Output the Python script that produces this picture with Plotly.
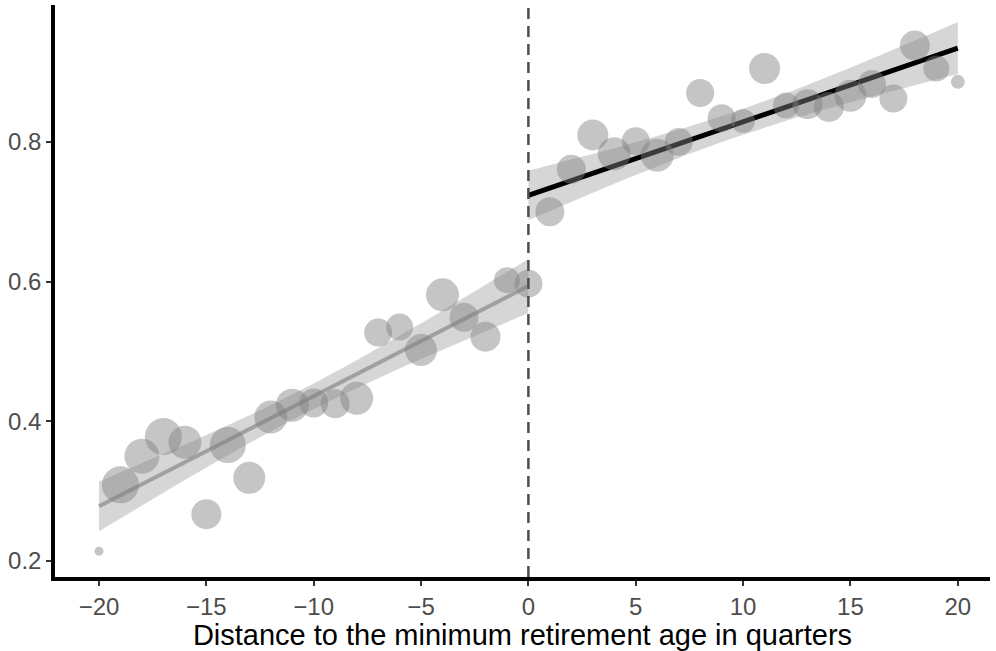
import numpy as np
import plotly.graph_objects as go

# ---- data ----
quarters = list(range(-20, 21))
share = [0.214, 0.309, 0.350, 0.378, 0.370, 0.267, 0.366, 0.319, 0.406, 0.423,
         0.426, 0.425, 0.433, 0.527, 0.535, 0.502, 0.581, 0.549, 0.521, 0.602,
         0.597,
         0.700, 0.761, 0.810, 0.783, 0.801, 0.781, 0.800, 0.870, 0.834, 0.830,
         0.905, 0.852, 0.854, 0.850, 0.866, 0.883, 0.862, 0.938, 0.905, 0.886]
weight = [9, 37, 35, 37, 33, 30, 36, 32, 33, 33,
          29, 29, 33, 28, 27, 32, 33, 29, 30, 26,
          28,
          29, 29, 31, 33, 28, 33, 28, 28, 28, 24,
          31, 26, 30, 30, 32, 28, 28, 30, 26, 14]
x_ticks = [-20, -15, -10, -5, 0, 5, 10, 15, 20]
x_tick_labels = ["\u221220", "\u221215", "\u221210", "\u22125", "0", "5", "10", "15", "20"]
y_ticks = [0.2, 0.4, 0.6, 0.8]
y_tick_labels = ["0.2", "0.4", "0.6", "0.8"]

x = np.array(quarters, dtype=float)
y = np.array(share)
w_all = np.array(weight, dtype=float)


def wls_fit(xs, ys, w, x_from, x_to):
    X = np.column_stack([np.ones_like(xs), xs])
    W = np.diag(w)
    XtWX_inv = np.linalg.inv(X.T @ W @ X)
    beta = XtWX_inv @ X.T @ W @ ys
    res = ys - X @ beta
    s2 = np.sum(w * res ** 2) / (len(xs) - 2)
    xg = np.linspace(x_from, x_to, 80)
    G = np.column_stack([np.ones_like(xg), xg])
    fit = G @ beta
    se = np.sqrt(s2 * np.einsum("ij,jk,ik->i", G, XtWX_inv, G))
    return xg, fit, fit - 1.96 * se, fit + 1.96 * se


fig = go.Figure()

groups = [(x < 0, -20, 0, "rgb(160,160,160)", 4),
          (x >= 0, 0, 20, "black", 5)]
for mask, a, b, col, lw in groups:
    xg, fit, lo, hi = wls_fit(x[mask], y[mask], w_all[mask], a, b)
    fig.add_trace(go.Scatter(x=np.concatenate([xg, xg[::-1]]),
                             y=np.concatenate([hi, lo[::-1]]),
                             fill="toself", fillcolor="rgba(153,153,153,0.4)",
                             line=dict(width=0), mode="lines", hoverinfo="skip",
                             showlegend=False))
    fig.add_trace(go.Scatter(x=xg, y=fit, mode="lines",
                             line=dict(color=col, width=lw), showlegend=False))

fig.add_trace(go.Scatter(x=quarters, y=share, mode="markers",
                         marker=dict(size=weight, sizemode="diameter",
                                     color="rgba(128,128,128,0.65)",
                                     line=dict(width=0)),
                         showlegend=False))

fig.add_shape(type="line", x0=0, x1=0, xref="x", y0=0, y1=1, yref="paper",
              line=dict(color="#4d4d4d", width=2.5, dash="11px,7px"))

fig.update_layout(
    width=996, height=651,
    paper_bgcolor="white", plot_bgcolor="white",
    margin=dict(l=55, r=6, t=5, b=74),
    font=dict(family="Liberation Sans, Arial, sans-serif"),
    xaxis=dict(range=[-22.05, 21.5], tickvals=x_ticks, ticktext=x_tick_labels,
               showline=True, linecolor="black", linewidth=3.5,
               ticks="outside", ticklen=5, tickcolor="#333333", tickwidth=2,
               showgrid=False, zeroline=False, automargin=False,
               tickfont=dict(size=24, color="#4d4d4d"),
               title=dict(text="Distance to the minimum retirement age in quarters",
                          font=dict(size=29, color="black"), standoff=1)),
    yaxis=dict(range=[0.177, 0.996], tickvals=y_ticks, ticktext=y_tick_labels,
               showline=True, linecolor="black", linewidth=3.5,
               ticks="outside", ticklen=5, tickcolor="#333333", tickwidth=2,
               showgrid=False, zeroline=False, automargin=False,
               tickfont=dict(size=24, color="#4d4d4d")),
)

fig.write_html("out.html", config={"displayModeBar": False},
               post_script=["document.body.style.margin='0';document.body.style.overflow='hidden';"])
